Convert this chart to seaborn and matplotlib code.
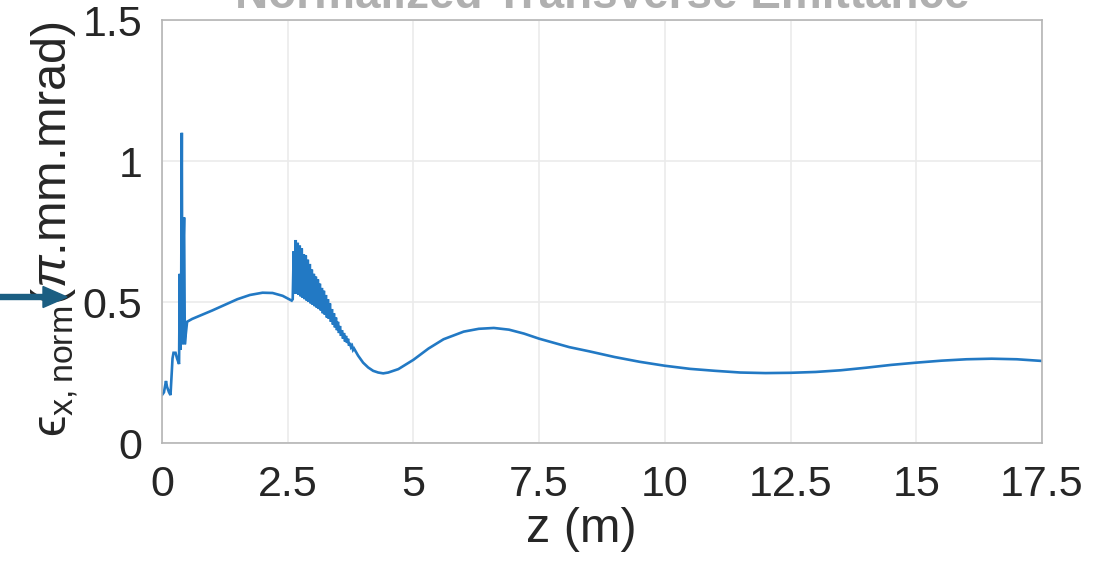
import seaborn as sns
import matplotlib.pyplot as plt
from matplotlib.patches import FancyArrow
from matplotlib.transforms import IdentityTransform

# z (m) and normalized emittance
# start: jumps and spikes near the gun
z_start = [0.00, 0.04, 0.08, 0.10, 0.14, 0.17, 0.21, 0.23, 0.27, 0.30, 0.34,
           0.355, 0.365, 0.38, 0.395, 0.405, 0.415, 0.44, 0.455, 0.47, 0.50]
eps_start = [0.17, 0.18, 0.22, 0.20, 0.18, 0.17, 0.30, 0.32, 0.32, 0.30, 0.28,
             0.60, 0.33, 0.45, 1.10, 0.35, 0.60, 0.80, 0.35, 0.38, 0.43]

# smooth rise up to the second cavity
z_mid = [0.60, 0.80, 1.00, 1.25, 1.50, 1.75, 2.00, 2.20, 2.40, 2.58]
eps_mid = [0.44, 0.455, 0.47, 0.49, 0.51, 0.525, 0.533, 0.532, 0.522, 0.505]

# fast oscillation after z = 2.6 m (peak / trough pairs)
z_osc = [2.60, 2.62, 2.64, 2.66, 2.68, 2.70, 2.72, 2.74, 2.76, 2.78, 2.80, 2.82,
         2.84, 2.86, 2.88, 2.90, 2.92, 2.94, 2.96, 2.98, 3.00, 3.02, 3.04, 3.06,
         3.08, 3.10, 3.12, 3.14, 3.16, 3.18, 3.20, 3.22, 3.24, 3.26, 3.28, 3.30,
         3.32, 3.34, 3.36, 3.38, 3.40, 3.42, 3.44, 3.46, 3.48, 3.50, 3.52, 3.54,
         3.56, 3.58, 3.60, 3.62, 3.64, 3.66, 3.68, 3.70, 3.72, 3.74, 3.76, 3.78,
         3.80, 3.82]
eps_osc = [0.51, 0.68, 0.53, 0.72, 0.53, 0.71, 0.525, 0.70, 0.52, 0.69, 0.515, 0.67,
           0.51, 0.665, 0.505, 0.65, 0.50, 0.635, 0.495, 0.615, 0.49, 0.60, 0.485, 0.59,
           0.48, 0.58, 0.475, 0.565, 0.47, 0.55, 0.46, 0.54, 0.455, 0.525, 0.445, 0.51,
           0.44, 0.495, 0.43, 0.475, 0.42, 0.46, 0.41, 0.445, 0.40, 0.43, 0.39, 0.415,
           0.38, 0.40, 0.37, 0.39, 0.36, 0.38, 0.355, 0.37, 0.345, 0.355, 0.34, 0.345,
           0.33, 0.335]

# smooth tail along the linac
z_tail = [3.90, 4.00, 4.10, 4.20, 4.30, 4.40, 4.50, 4.70, 5.00, 5.30, 5.60, 6.00,
          6.30, 6.60, 6.90, 7.20, 7.50, 7.80, 8.10, 8.50, 9.00, 9.50, 10.0, 10.5,
          11.0, 11.5, 12.0, 12.5, 13.0, 13.5, 14.0, 14.5, 15.0, 15.5, 16.0, 16.5,
          17.0, 17.5]
eps_tail = [0.31, 0.285, 0.268, 0.256, 0.25, 0.247, 0.25, 0.262, 0.295, 0.335, 0.368, 0.395,
            0.405, 0.408, 0.402, 0.388, 0.37, 0.355, 0.34, 0.325, 0.305, 0.288, 0.274, 0.263,
            0.256, 0.25, 0.248, 0.249, 0.252, 0.258, 0.267, 0.277, 0.285, 0.292, 0.297, 0.299,
            0.297, 0.291]

x_ticks = [0, 2.5, 5, 7.5, 10, 12.5, 15, 17.5]
x_tick_labels = ["0", "2.5", "5", "7.5", "10", "12.5", "15", "17.5"]
y_ticks = [0, 0.5, 1, 1.5]
y_tick_labels = ["0", "0.5", "1", "1.5"]

z = z_start + z_mid + z_osc + z_tail
eps = eps_start + eps_mid + eps_osc + eps_tail

sns.set_theme(style="white")
plt.rcParams["font.family"] = ["Liberation Sans", "DejaVu Sans"]
plt.rcParams["mathtext.fontset"] = "custom"
plt.rcParams["mathtext.rm"] = "Liberation Sans"
plt.rcParams["mathtext.it"] = "Liberation Sans:italic"
plt.rcParams["mathtext.fallback"] = "stixsans"
plt.rcParams["lines.solid_joinstyle"] = "miter"

fig = plt.figure(figsize=(11.01, 5.62), dpi=100)
ax = fig.add_axes([0.1471, 0.2117, 0.7993, 0.7527])

sns.lineplot(x=z, y=eps, ax=ax, color="#2279c4", linewidth=1.9,
             sort=False, estimator=None)

ax.set_xlim(0, 17.5)
ax.set_ylim(0, 1.5)
ax.set_xticks(x_ticks)
ax.set_xticklabels(x_tick_labels)
ax.set_yticks(y_ticks)
ax.set_yticklabels(y_tick_labels)
ax.grid(True, color="#ebebeb", linewidth=1.2)
ax.tick_params(direction="in", length=6, width=1, color="#b5b5b5",
               labelsize=31, labelcolor="#262626")
ax.tick_params(axis="x", pad=16)
ax.tick_params(axis="y", pad=14)
for s in ax.spines.values():
    s.set_color("#b5b5b5")
    s.set_linewidth(1.2)

ax.set_xlabel("z (m)", fontsize=35, color="#262626")
ax.xaxis.set_label_coords(0.477, -0.152)
ax.set_ylabel("$\\mathrm{\u03f5}_{\\rm x,norm}$($\\pi$.mm.mrad)", fontsize=35,
              color="#262626")
ax.yaxis.set_label_coords(-0.092, 0.505)

# title sits mostly above the cropped top edge
ax.set_title("Normalized Transverse Emittance", fontsize=33, fontweight="bold",
             color="#b0b0b0", pad=9)

# dark arrow pointing at the y label
fig.add_artist(FancyArrow(0, 265, 67, 0, width=5, head_width=21, head_length=24,
                          length_includes_head=True, color="#1b5e82",
                          transform=IdentityTransform()))

fig.savefig("out.png", dpi=100, facecolor="white")
